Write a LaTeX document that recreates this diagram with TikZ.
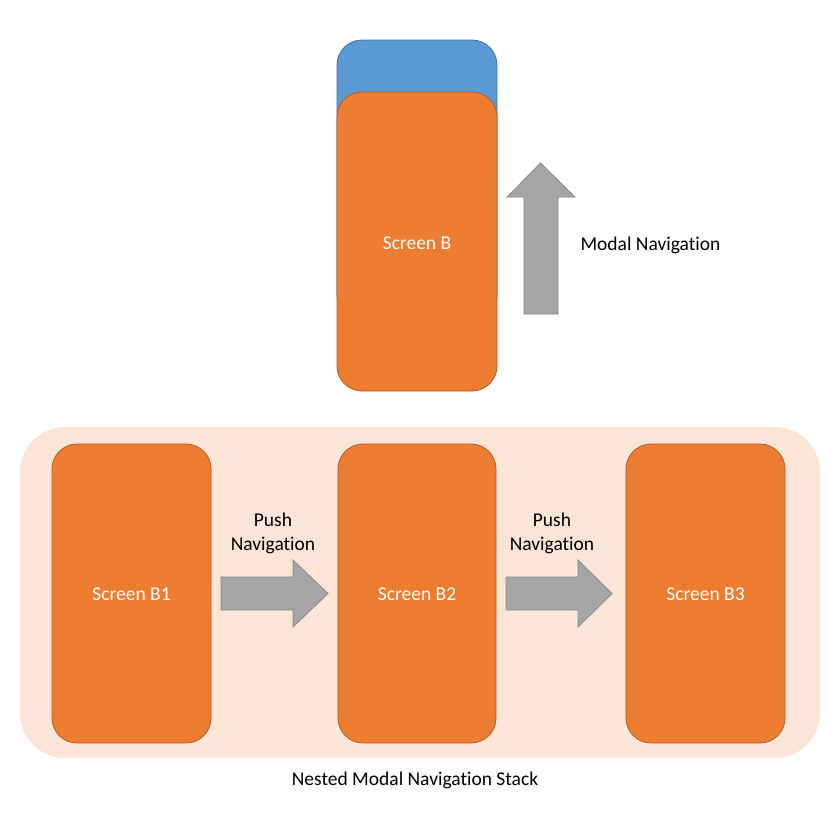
\documentclass[tikz,border=0pt]{standalone}
\usepackage{fontspec}
\setmainfont[Ligatures=NoCommon]{Carlito}
\definecolor{scrorange}{HTML}{ED7D31}
\definecolor{scrborder}{HTML}{B35D24}
\definecolor{scrblue}{HTML}{5B9BD5}
\definecolor{blueborder}{HTML}{41719C}
\definecolor{panel}{HTML}{FBE5D6}
\definecolor{arrowgray}{HTML}{A5A5A5}
\definecolor{arrowborder}{HTML}{8A8A8A}
\begin{document}
\begin{tikzpicture}[x=1pt,y=-1pt,
  screen/.style={draw=scrborder,fill=scrorange,rounded corners=25pt,line width=0.8pt},
  scrlabel/.style={text=white,font=\fontsize{19.5}{24}\selectfont},
  blacklabel/.style={text=black,font=\fontsize{19.5}{24}\selectfont,align=center},
  bigarrow/.style={draw=arrowborder,fill=arrowgray,line width=0.8pt}]
\useasboundingbox (0,0) rectangle (840,827);
\fill[white] (0,0) rectangle (840,827);
% panel
\fill[panel,rounded corners=45pt] (20,427) rectangle (820,758);
\node[blacklabel] (stacklbl) at (415,780) {Nested Modal Navigation Stack};
% top screens
\draw[draw=blueborder,fill=scrblue,rounded corners=25pt,line width=0.8pt] (337,40) rectangle (497,320);
\draw[screen] (337,92) rectangle (497,391);
\node[scrlabel] (sb) at (417,243) {Screen B};
% modal arrow
\draw[bigarrow] (524,314) -- (558,314) -- (558,197) -- (575,197) -- (540.5,163) -- (507,197) -- (524,197) -- cycle;
\node[blacklabel,anchor=west] (modal) at (577,245) {Modal Navigation};
% bottom screens
\draw[screen] (52,444) rectangle (211,743);
\node[scrlabel] (b1) at (131.5,594) {Screen B1};
\draw[screen] (338,444) rectangle (496,743);
\node[scrlabel] (b2) at (417,594) {Screen B2};
\draw[screen] (626,444) rectangle (785,743);
\node[scrlabel] (b3) at (705.5,594) {Screen B3};
% push arrows
\draw[bigarrow] (221,577) -- (293,577) -- (293,560) -- (328,593.5) -- (293,627) -- (293,610) -- (221,610) -- cycle;
\node[blacklabel] (push1) at (273,533) {Push\\Navigation};
\draw[bigarrow] (506,577) -- (578,577) -- (578,560) -- (612,593.5) -- (578,627) -- (578,610) -- (506,610) -- cycle;
\node[blacklabel] (push2) at (552,533) {Push\\Navigation};
\end{tikzpicture}
\end{document}
